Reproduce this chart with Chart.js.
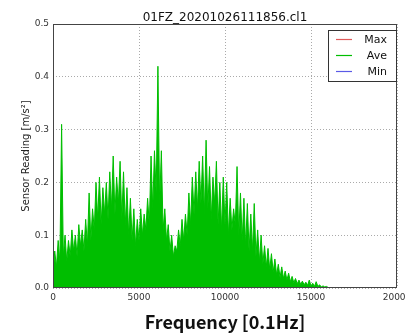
<!DOCTYPE html>
<html>
<head>
<meta charset="utf-8">
<script src="https://cdn.jsdelivr.net/npm/chart.js@4/dist/chart.umd.min.js"></script>
<style>
  html, body { margin: 0; padding: 0; background: #fff; }
  #wrap { width: 405px; height: 335px; }
</style>
</head>
<body>
<div id="wrap"><canvas id="chart" width="405" height="335"></canvas></div>
<script>
// spectrum, one value every 100 (0.1Hz units) from 0 to 16000
const freqStep = 100;
const aveValues = [
  0.02, 0.07, 0.04, 0.09, 0.05, 0.31, 0.06, 0.10, 0.05, 0.09,
  0.06, 0.11, 0.07, 0.10, 0.06, 0.12, 0.08, 0.11, 0.07, 0.13,
  0.08, 0.18, 0.09, 0.15, 0.11, 0.20, 0.13, 0.21, 0.12, 0.19,
  0.14, 0.20, 0.13, 0.22, 0.15, 0.25, 0.14, 0.21, 0.16, 0.24,
  0.13, 0.22, 0.12, 0.19, 0.10, 0.17, 0.09, 0.15, 0.08, 0.13,
  0.09, 0.15, 0.10, 0.14, 0.11, 0.17, 0.12, 0.25, 0.15, 0.26,
  0.18, 0.42, 0.16, 0.26, 0.11, 0.15, 0.09, 0.12, 0.07, 0.10,
  0.06, 0.08, 0.07, 0.11, 0.08, 0.13, 0.09, 0.14, 0.10, 0.18,
  0.12, 0.21, 0.14, 0.22, 0.15, 0.24, 0.16, 0.25, 0.14, 0.28,
  0.15, 0.23, 0.13, 0.21, 0.16, 0.24, 0.12, 0.20, 0.11, 0.21,
  0.12, 0.20, 0.10, 0.17, 0.11, 0.15, 0.12, 0.23, 0.10, 0.18,
  0.09, 0.17, 0.08, 0.16, 0.07, 0.14, 0.07, 0.16, 0.06, 0.11,
  0.05, 0.10, 0.045, 0.08, 0.04, 0.075, 0.035, 0.065, 0.03, 0.055,
  0.025, 0.045, 0.02, 0.04, 0.018, 0.032, 0.015, 0.028, 0.012, 0.022,
  0.01, 0.018, 0.008, 0.015, 0.007, 0.013, 0.006, 0.011, 0.005, 0.015,
  0.004, 0.009, 0.003, 0.012, 0.003, 0.006, 0.002, 0.004, 0.002, 0.003,
  0.001
];
const maxValues = [];
const minValues = [];
const seriesNames = ['Max', 'Ave', 'Min'];
const seriesColors = ['#e05a5a', '#00be00', '#5a5ae6'];
const xTicks = [0, 5000, 10000, 15000, 20000];
const yTicks = [0.0, 0.1, 0.2, 0.3, 0.4, 0.5];
const chartTitle = '01FZ_20201026111856.cl1';

const toPoints = vals => vals.map((v, i) => ({ x: i * freqStep, y: v }));

// box around the plot, title centred over it, legend in the top right corner
const framePlugin = {
  id: 'frame',
  afterDraw(chart) {
    const ctx = chart.ctx;
    const a = chart.chartArea;
    ctx.save();
    ctx.strokeStyle = '#444';
    ctx.lineWidth = 1;
    ctx.strokeRect(a.left + 0.5, a.top + 0.5, a.right - a.left - 1, a.bottom - a.top - 1);

    ctx.fillStyle = '#111';
    ctx.font = '12px "DejaVu Sans"';
    ctx.textAlign = 'center';
    ctx.textBaseline = 'alphabetic';
    ctx.fillText(chartTitle, (a.left + a.right) / 2, a.top - 3);

    const bx = a.right - 69, by = a.top + 6, bw = 68, bh = 51;
    ctx.fillStyle = '#fff';
    ctx.fillRect(bx, by, bw, bh);
    ctx.strokeStyle = '#333';
    ctx.strokeRect(bx + 0.5, by + 0.5, bw, bh);
    ctx.font = '11px "DejaVu Sans"';
    ctx.textBaseline = 'middle';
    ctx.textAlign = 'right';
    seriesNames.forEach((name, i) => {
      const y = by + 9 + i * 16;
      ctx.strokeStyle = seriesColors[i];
      ctx.lineWidth = 1.2;
      ctx.beginPath();
      ctx.moveTo(bx + 8, y + 0.5);
      ctx.lineTo(bx + 24, y + 0.5);
      ctx.stroke();
      ctx.fillStyle = '#111';
      ctx.fillText(name, bx + 59, y + 1);
    });
    ctx.restore();
  }
};

new Chart(document.getElementById('chart'), {
  type: 'line',
  data: {
    datasets: [
      { label: seriesNames[0], data: toPoints(maxValues), borderColor: seriesColors[0], borderWidth: 1, pointRadius: 0 },
      { label: seriesNames[1], data: toPoints(aveValues), borderColor: seriesColors[1], backgroundColor: seriesColors[1],
        borderWidth: 1, pointRadius: 0, fill: 'origin', tension: 0 },
      { label: seriesNames[2], data: toPoints(minValues), borderColor: seriesColors[2], borderWidth: 1, pointRadius: 0 }
    ]
  },
  options: {
    responsive: false,
    animation: false,
    layout: { autoPadding: false, padding: { top: 24, right: 8, left: 0, bottom: 0 } },
    plugins: {
      legend: { display: false },
      tooltip: { enabled: false },
      title: { display: false }
    },
    scales: {
      x: {
        type: 'linear',
        min: 0,
        max: 20000,
        afterBuildTicks: s => { s.ticks = xTicks.map(v => ({ value: v })); },
        afterFit: s => { s.height = 47; s.paddingLeft = 0; s.paddingRight = 0; },
        grid: { color: '#aaa', lineWidth: 1, drawTicks: false },
        border: { display: false, dash: [1, 2] },
        ticks: { color: '#333', font: { family: 'DejaVu Sans', size: 9 }, padding: 4, maxRotation: 0,
          callback: v => String(v) },
        title: {
          display: true,
          text: 'Frequency [0.1Hz]',
          color: '#111',
          font: { family: 'Noto Sans CJK JP', size: 18, weight: 'bold' },
          padding: { top: 4, bottom: 2 }
        }
      },
      y: {
        min: 0,
        max: 0.5,
        afterBuildTicks: s => { s.ticks = yTicks.map(v => ({ value: v })); },
        afterFit: s => { s.width = 53; s.paddingTop = 0; s.paddingBottom = 0; },
        grid: { color: '#aaa', lineWidth: 1, drawTicks: false },
        border: { display: false, dash: [1, 2] },
        ticks: { color: '#333', font: { family: 'DejaVu Sans', size: 9 }, padding: 4, callback: v => v.toFixed(1) },
        title: {
          display: true,
          text: 'Sensor Reading [m/s²]',
          color: '#222',
          font: { family: 'DejaVu Sans', size: 10 },
          padding: { top: 20, bottom: 0 }
        }
      }
    }
  },
  plugins: [framePlugin]
});
</script>
</body>
</html>
